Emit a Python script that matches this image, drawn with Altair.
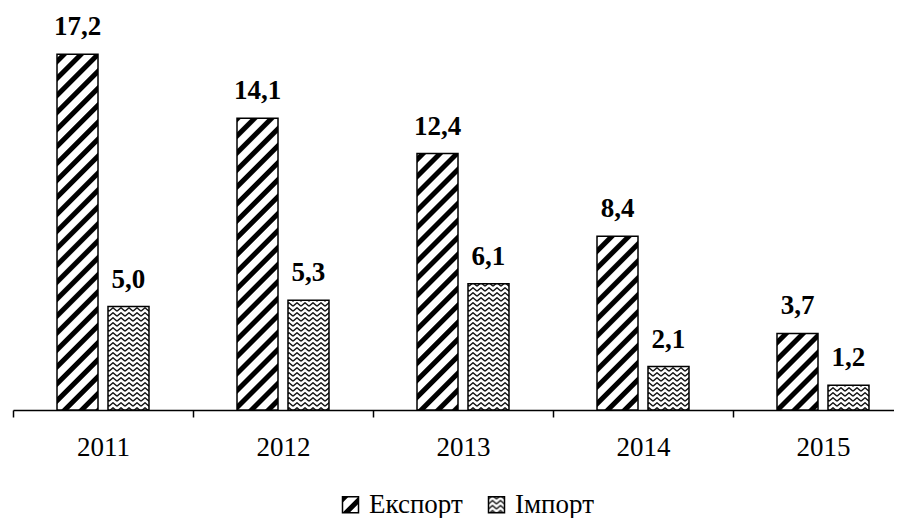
import altair as alt
import pandas as pd
import jinja2
import altair.utils.html as alt_html

# ---------------- data ----------------
years = ["2011", "2012", "2013", "2014", "2015"]
series = ["Експорт", "Імпорт"]
export_vals = [17.2, 14.1, 12.4, 8.4, 3.7]
import_vals = [5.0, 5.3, 6.1, 2.1, 1.2]

rows = []
for i, y in enumerate(years):
    rows.append({"year": y, "series": series[0], "value": export_vals[i]})
    rows.append({"year": y, "series": series[1], "value": import_vals[i]})
df = pd.DataFrame(rows)

# ------------- page template with hatch patterns -------------
PAGE = """<!DOCTYPE html>
<html>
<head>
  <meta charset="utf-8">
  <style>
    body { overflow: hidden; }
    #{{ output_div }}.vega-embed { width: 100%; display: flex; }
    #{{ output_div }}.vega-embed svg { flex-shrink: 0; max-width: none; }
    #{{ output_div }}.vega-embed details,
    #{{ output_div }}.vega-embed details summary { position: relative; }
  </style>
  <script type="text/javascript" src="{{ base_url }}/vega@{{ vega_version }}"></script>
  <script type="text/javascript" src="{{ base_url }}/vega-lite@{{ vegalite_version }}"></script>
  <script type="text/javascript" src="{{ base_url }}/vega-embed@{{ vegaembed_version }}"></script>
</head>
<body>
  <svg width="0" height="0" style="position:absolute;left:0;top:0">
    <defs>
      <pattern id="hatchExp" patternUnits="userSpaceOnUse" width="12" height="12" patternTransform="rotate(45)">
        <rect x="0" y="0" width="12" height="12" fill="white"/>
        <rect x="0" y="0" width="5" height="12" fill="black"/>
      </pattern>
      <pattern id="hatchImp" patternUnits="userSpaceOnUse" width="8" height="5">
        <rect x="0" y="0" width="8" height="5" fill="white"/>
        <path d="M0,4.2 L4,0.8 L8,4.2" fill="none" stroke="#111" stroke-width="1.4"/>
      </pattern>
    </defs>
  </svg>
  <div id="{{ output_div }}"></div>
  <script type="text/javascript">
    (function(vegaEmbed) {
      var spec = {{ spec }};
      var embedOpt = {{ embed_options }};
      function showError(el, error){
        el.innerHTML = ('<div style="color:red;"><p>JavaScript Error: ' + error.message + '</p></div>');
        throw error;
      }
      const el = document.getElementById('{{ output_div }}');
      vegaEmbed("#{{ output_div }}", spec, embedOpt).catch(error => showError(el, error));
    })(vegaEmbed);
  </script>
</body>
</html>
"""
alt_html.TEMPLATES["standard"] = jinja2.Template(PAGE)

# ---------------- chart ----------------
FONT = "Liberation Serif"

x_enc = alt.X(
    "year:N",
    sort=years,
    scale=alt.Scale(paddingInner=0, paddingOuter=0),
    axis=alt.Axis(
        title=None, labelAngle=0, tickBand="extent", grid=False,
        domainColor="black", domainWidth=1.5,
        tickColor="black", tickWidth=1.5, tickSize=7,
        labelFont=FONT, labelFontSize=27, labelColor="black",
        labelBaseline="alphabetic", labelPadding=38,
    ),
)
xoff_enc = alt.XOffset(
    "series:N", sort=series,
    scale=alt.Scale(paddingInner=0.196, paddingOuter=0.863),
)
y_enc = alt.Y("value:Q", scale=alt.Scale(domain=[0, 19], nice=False, zero=True), axis=None)

bars = alt.Chart(df).mark_bar(stroke="black", strokeWidth=1.5).encode(
    x=x_enc,
    xOffset=xoff_enc,
    y=y_enc,
    fill=alt.Fill(
        "series:N",
        sort=series,
        scale=alt.Scale(domain=series, range=["url(#hatchExp)", "url(#hatchImp)"]),
        legend=alt.Legend(
            title=None, orient="none", legendX=324, legendY=474,
            direction="horizontal", symbolType="square", symbolSize=256,
            symbolStrokeColor="black", symbolStrokeWidth=1.5,
            labelFont=FONT, labelFontSize=27, labelColor="black",
            labelOffset=5, columnPadding=20, padding=0, labelLimit=300,
        ),
    ),
)

labels = alt.Chart(df).transform_calculate(
    label="replace(format(datum.value, '.1f'), '.', ',')"
).mark_text(
    font=FONT, fontSize=27, fontWeight="bold", color="black",
    baseline="alphabetic", align="center", dy=-19,
).encode(
    x=x_enc,
    xOffset=xoff_enc,
    y=y_enc,
    text="label:N",
)

chart = alt.layer(bars, labels).properties(
    width=900,
    height=393,
    autosize=alt.AutoSizeParams(type="none"),
    padding={"left": 5, "top": 9, "right": 0, "bottom": 108},
    background="white",
).configure_view(
    stroke=None
)

chart.save("out.html", embed_options={"renderer": "svg", "actions": False})
